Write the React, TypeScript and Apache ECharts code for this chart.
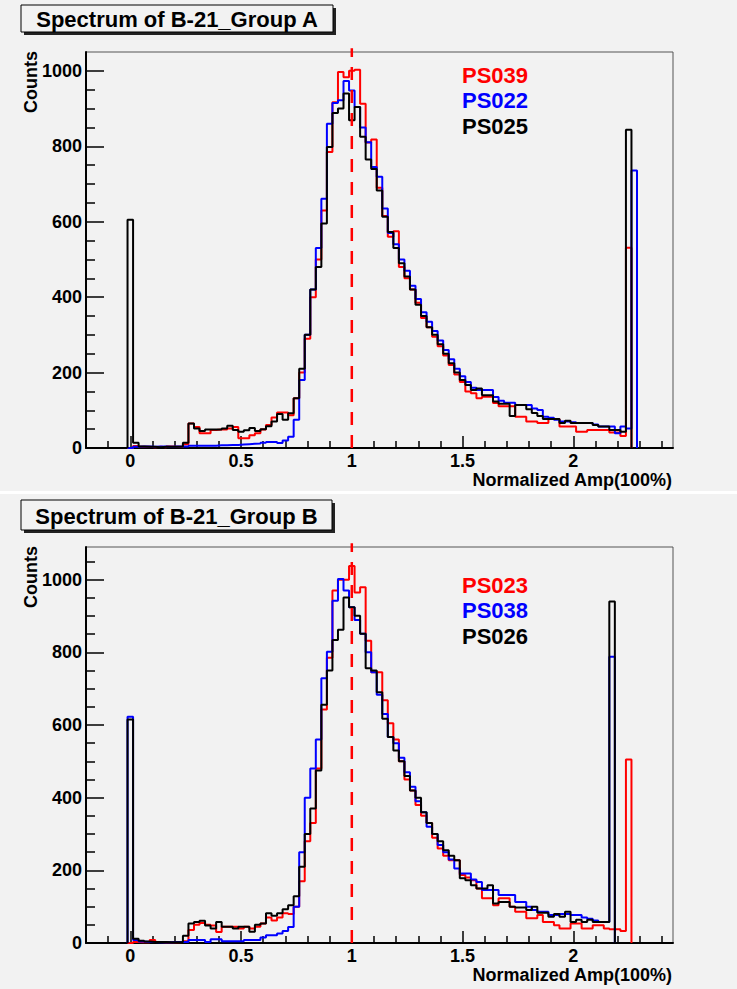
import React, { useEffect, useRef } from 'react';
import * as echarts from 'echarts';

// Histogram binning: bins of width 0.025, first bin centred on 0
const BIN_WIDTH = 0.025;
const FIRST_BIN_CENTER = 0;

// ---------- Group A ----------
const groupA_PS039 = [
  0, 5, 3, 3, 2, 3, 2, 4, 3, 3,
  10, 65, 56, 39, 39, 48, 49, 49, 52, 56,
  26, 26, 34, 39, 49, 61, 81, 94, 94, 87,
  132, 200, 290, 400, 500, 630, 785, 917, 997, 983,
  1000, 1003, 913, 810, 818, 690, 615, 560, 575, 480,
  450, 420, 385, 345, 320, 295, 270, 245, 220, 195,
  175, 150, 145, 132, 136, 136, 119, 111, 111, 111,
  83, 83, 70, 70, 66, 66, 77, 77, 57, 57,
  57, 43, 43, 48, 48, 48, 48, 41, 41, 32,
  531,
];
const groupA_PS022 = [
  0, 3, 4, 4, 3, 4, 4, 3, 4, 4,
  4, 6, 6, 6, 6, 6, 7, 7, 8, 8,
  9, 10, 11, 12, 14, 16, 16, 13, 20, 30,
  75, 180, 300, 420, 530, 661, 860, 915, 922, 973,
  948, 904, 850, 811, 745, 719, 635, 570, 540, 500,
  470, 430, 395, 360, 335, 310, 285, 260, 235, 210,
  190, 175, 160, 154, 154, 154, 135, 125, 120, 120,
  114, 114, 114, 105, 101, 83, 80, 75, 70, 70,
  68, 66, 66, 66, 62, 57, 57, 57, 39, 57,
  52, 736,
];
const groupA_PS025 = [
  605, 14, 4, 3, 3, 2, 3, 3, 3, 4,
  14, 65, 52, 45, 49, 49, 49, 52, 59, 48,
  43, 47, 53, 45, 50, 58, 70, 90, 75, 92,
  132, 210, 300, 420, 480, 595, 798, 888, 900, 940,
  869, 904, 825, 765, 740, 683, 613, 573, 530, 490,
  455, 420, 380, 350, 320, 300, 275, 250, 225, 200,
  180, 167, 154, 158, 140, 140, 123, 117, 117, 85,
  114, 114, 103, 93, 85, 77, 77, 77, 66, 72,
  66, 66, 66, 66, 61, 57, 57, 48, 48, 43,
  844,
];

// ---------- Group B ----------
const groupB_PS023 = [
  0, 3, 2, 2, 8, 3, 2, 2, 2, 3,
  5, 36, 50, 55, 50, 48, 30, 45, 45, 45,
  40, 45, 40, 45, 54, 70, 62, 70, 82, 80,
  100, 170, 280, 330, 480, 643, 785, 970, 1000, 1000,
  1038, 965, 979, 832, 745, 745, 668, 605, 560, 500,
  450, 420, 380, 350, 330, 290, 260, 240, 228, 228,
  187, 180, 173, 150, 123, 123, 104, 123, 123, 100,
  86, 86, 68, 68, 77, 58, 58, 49, 40, 40,
  54, 54, 40, 40, 49, 49, 40, 38, 38, 33,
  505,
];
const groupB_PS038 = [
  623, 8, 4, 3, 3, 2, 2, 2, 3, 3,
  3, 8, 8, 8, 3, 10, 10, 5, 5, 5,
  5, 8, 8, 8, 15, 21, 21, 26, 33, 44,
  100, 250, 400, 480, 560, 729, 802, 942, 1002, 970,
  924, 889, 851, 800, 745, 683, 630, 567, 550, 510,
  470, 430, 390, 360, 320, 300, 270, 250, 230, 205,
  191, 191, 175, 168, 146, 146, 146, 132, 132, 132,
  113, 113, 100, 91, 86, 86, 77, 77, 80, 80,
  77, 77, 70, 67, 62, 58, 58, 788,
];
const groupB_PS026 = [
  615, 12, 6, 4, 3, 3, 3, 2, 2, 3,
  20, 54, 58, 61, 48, 40, 58, 45, 45, 40,
  45, 45, 31, 50, 54, 82, 75, 82, 93, 104,
  129, 210, 300, 370, 475, 656, 750, 834, 862, 951,
  924, 901, 851, 756, 750, 690, 617, 567, 530, 500,
  460, 420, 400, 360, 330, 300, 280, 255, 240, 228,
  178, 173, 159, 150, 150, 159, 109, 113, 113, 100,
  98, 98, 91, 100, 83, 83, 72, 80, 72, 86,
  58, 64, 58, 64, 58, 58, 58, 940,
];

// Axis ranges / ticks
const X_MIN = -0.2;
const X_MAX = 2.45;
const X_MAJOR = [0, 0.5, 1, 1.5, 2];
const X_MINOR = [-0.1, 0.1, 0.2, 0.3, 0.4, 0.6, 0.7, 0.8, 0.9, 1.1, 1.2, 1.3, 1.4, 1.6, 1.7, 1.8, 1.9, 2.1, 2.2, 2.3, 2.4];
const Y_MAX_A = 1050;
const Y_MAX_B = 1090;
const Y_MAJOR = [0, 200, 400, 600, 800, 1000];
const Y_MINOR_A = [50, 100, 150, 250, 300, 350, 450, 500, 550, 650, 700, 750, 850, 900, 950];
const Y_MINOR_B = [...Y_MINOR_A, 1050];

// Reference line at nominal amplitude
const REF_X = 1;
const REF_TOP_A = 1060;
const REF_TOP_B = 1100;

const TITLE_A = 'Spectrum of B-21_Group A';
const TITLE_B = 'Spectrum of B-21_Group B';
const LEGEND_A = ['PS039', 'PS022', 'PS025'];
const LEGEND_B = ['PS023', 'PS038', 'PS026'];
const COLORS = ['#ff0000', '#0000ff', '#000000'];
const X_TITLE = 'Normalized Amp(100%)';
const Y_TITLE = 'Counts';

const BG = '#f2f2f2';
const FONT = '"Liberation Sans", Arial, Helvetica, sans-serif';

function toStep(counts: number[]): number[][] {
  const edge = (i: number) => +(FIRST_BIN_CENTER + (i - 0.5) * BIN_WIDTH).toFixed(5);
  const pts: number[][] = [[edge(0), 0]];
  counts.forEach((v, i) => pts.push([edge(i + 1), v]));
  pts.push([edge(counts.length), 0]);
  return pts;
}

export default function App() {
  const ref = useRef<HTMLDivElement>(null);

  useEffect(() => {
    if (!ref.current) return;
    const chart = echarts.init(ref.current, null, { renderer: 'svg' });

    const grids = [
      { left: 86, top: 52, width: 587, height: 396 },
      { left: 86, top: 547, width: 587, height: 396 },
    ];
    const yMaxes = [Y_MAX_A, Y_MAX_B];
    const yMinors = [Y_MINOR_A, Y_MINOR_B];
    const labelStyle = { color: '#000', fontFamily: FONT, fontWeight: 'bold' as const, fontSize: 18 };
    const plain = (v: number) => String(v);

    const xAxes: any[] = [];
    const yAxes: any[] = [];
    [0, 1].forEach((g) => {
      xAxes.push({
        type: 'value', gridIndex: g, position: 'bottom', min: X_MIN, max: X_MAX,
        axisLine: { show: true, onZero: false, lineStyle: { color: '#000', width: 2 } },
        axisTick: { show: true, inside: true, length: 12, customValues: X_MAJOR, lineStyle: { color: '#000', width: 1.5 } },
        axisLabel: { show: true, customValues: X_MAJOR, margin: 4, formatter: plain, ...labelStyle },
        splitLine: { show: false },
      });
      yAxes.push({
        type: 'value', gridIndex: g, position: 'left', min: 0, max: yMaxes[g],
        axisLine: { show: true, onZero: false, lineStyle: { color: '#000', width: 2 } },
        axisTick: { show: true, inside: true, length: 18, customValues: Y_MAJOR, lineStyle: { color: '#000', width: 1.5 } },
        axisLabel: { show: true, customValues: Y_MAJOR, margin: 4, formatter: plain, ...labelStyle },
        splitLine: { show: false },
      });
    });
    [0, 1].forEach((g) => {
      xAxes.push({
        type: 'value', gridIndex: g, position: 'bottom', min: X_MIN, max: X_MAX,
        axisLine: { show: false, onZero: false },
        axisTick: { show: true, inside: true, length: 7, customValues: X_MINOR, lineStyle: { color: '#000', width: 1.5 } },
        axisLabel: { show: false },
        splitLine: { show: false },
      });
      yAxes.push({
        type: 'value', gridIndex: g, position: 'left', min: 0, max: yMaxes[g],
        axisLine: { show: false, onZero: false },
        axisTick: { show: true, inside: true, length: 9, customValues: yMinors[g], lineStyle: { color: '#000', width: 1.5 } },
        axisLabel: { show: false },
        splitLine: { show: false },
      });
    });

    const histSeries = (data: number[], g: number, color: string, z: number) => ({
      type: 'line', xAxisIndex: g, yAxisIndex: g, data: toStep(data), step: 'start',
      symbol: 'none', lineStyle: { color, width: 2 }, z, silent: true,
    });
    const refSeries = (g: number, top: number) => ({
      type: 'line', xAxisIndex: g, yAxisIndex: g, data: [[REF_X, 0], [REF_X, top]],
      symbol: 'none', clip: false, lineStyle: { color: '#ff0000', width: 2.5, type: [13, 10] }, z: 10, silent: true,
    });

    const series = [
      histSeries(groupA_PS039, 0, COLORS[0], 2),
      histSeries(groupA_PS022, 0, COLORS[1], 3),
      histSeries(groupA_PS025, 0, COLORS[2], 4),
      refSeries(0, REF_TOP_A),
      histSeries(groupB_PS023, 1, COLORS[0], 2),
      histSeries(groupB_PS038, 1, COLORS[1], 3),
      histSeries(groupB_PS026, 1, COLORS[2], 4),
      refSeries(1, REF_TOP_B),
    ];

    const titleBox = (x: number, y: number, w: number, h: number, text: string) => ([
      { type: 'rect', shape: { x: x + 3, y: y + 3, width: w, height: h }, style: { fill: '#222' }, z: 20 },
      { type: 'rect', shape: { x, y, width: w, height: h }, style: { fill: BG, stroke: '#000', lineWidth: 1 }, z: 21 },
      {
        type: 'text', x: x + w / 2, y: y + h / 2 + 1, z: 22,
        style: { text, fill: '#000', font: `bold 22px ${FONT}`, textAlign: 'center', textVerticalAlign: 'middle' },
      },
    ]);
    const legend = (names: string[], x: number, y0: number) => names.map((n, i) => ({
      type: 'text', x, y: y0 + i * 25.5, z: 22,
      style: { text: n, fill: COLORS[i], font: `bold 22px ${FONT}`, textAlign: 'left', textVerticalAlign: 'middle' },
    }));
    const yTitle = (cy: number) => ({
      type: 'text', x: 31, y: cy, rotation: Math.PI / 2, z: 22,
      style: { text: Y_TITLE, fill: '#000', font: `bold 18px ${FONT}`, textAlign: 'center', textVerticalAlign: 'middle' },
    });
    const xTitle = (cy: number) => ({
      type: 'text', x: 672, y: cy, z: 22,
      style: { text: X_TITLE, fill: '#000', font: `bold 18px ${FONT}`, textAlign: 'right', textVerticalAlign: 'middle' },
    });

    const graphic = [
      { type: 'rect', shape: { x: 0, y: 491, width: 737, height: 3 }, style: { fill: '#ffffff' }, z: 19 },
      ...titleBox(21, 5, 312, 27, TITLE_A),
      ...titleBox(21, 500, 311, 30, TITLE_B),
      ...legend(LEGEND_A, 462, 75),
      ...legend(LEGEND_B, 462, 585),
      yTitle(82), yTitle(577),
      xTitle(480), xTitle(975),
    ];

    chart.setOption({
      animation: false,
      backgroundColor: BG,
      grid: grids.map((g) => ({ ...g, show: true, backgroundColor: BG, borderColor: '#555', borderWidth: 1, containLabel: false })),
      xAxis: xAxes,
      yAxis: yAxes,
      series,
      graphic,
    });

    return () => chart.dispose();
  }, []);

  return <div ref={ref} style={{ position: 'absolute', left: 0, top: 0, width: 737, height: 989 }} />;
}
